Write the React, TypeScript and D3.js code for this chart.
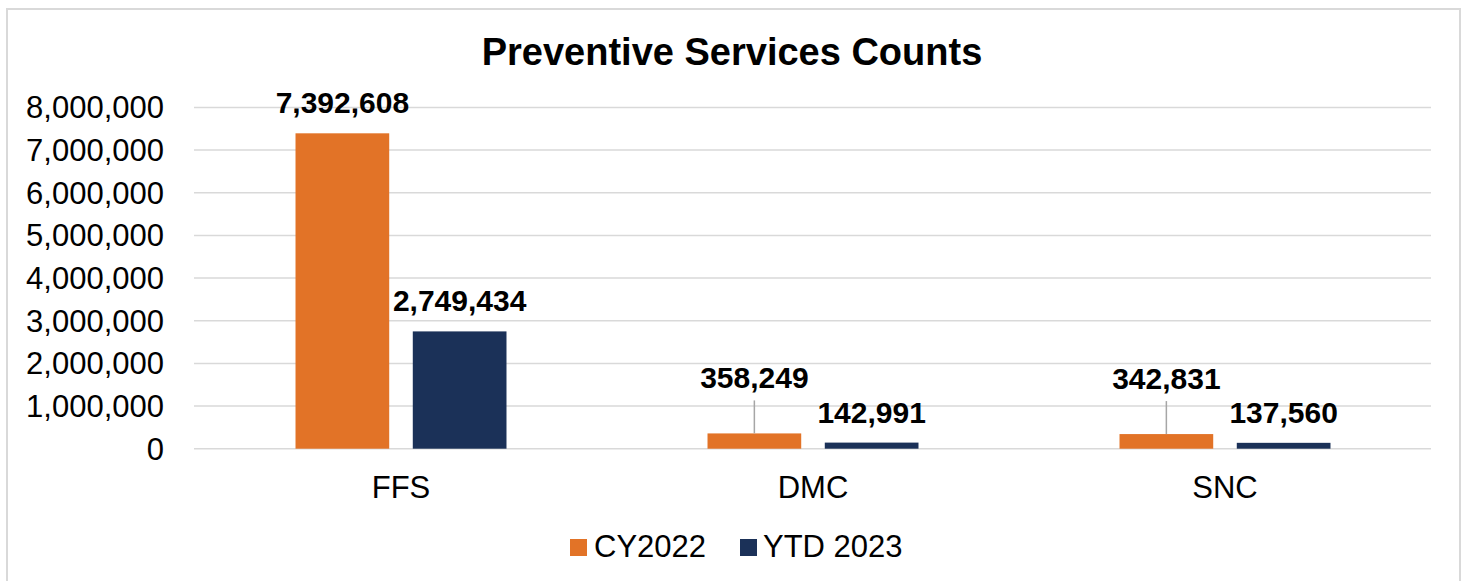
import React from "react";
import * as d3 from "d3";

const categories = ["FFS", "DMC", "SNC"];
const seriesNames = ["CY2022", "YTD 2023"];
const cy2022 = [7392608, 358249, 342831];
const ytd2023 = [2749434, 142991, 137560];
const yTicks = [0, 1000000, 2000000, 3000000, 4000000, 5000000, 6000000, 7000000, 8000000];
const colors = ["#E27327", "#1B3158"];
const title = "Preventive Services Counts";

const W = 1469;
const H = 581;
const FONT = "'Liberation Sans', Arial, sans-serif";

export default function App() {
  const x0 = d3.scaleBand<string>().domain(categories).range([195, 1431]).paddingInner(0).paddingOuter(0);
  const x1 = d3
    .scaleBand<string>()
    .domain(seriesNames)
    .range([0, x0.bandwidth()])
    .paddingInner(0.201)
    .paddingOuter(0.857);
  const y = d3.scaleLinear().domain([0, 8000000]).range([448.7, 107.4]);
  const fmt = d3.format(",");
  const series = [cy2022, ytd2023];

  return (
    <svg
      width={W}
      height={H}
      style={{ position: "absolute", left: 0, top: 0, background: "#fff" }}
      fontFamily={FONT}
    >
      <rect x={0} y={0} width={W} height={H} fill="#fff" />
      <rect x={7} y={9} width={1453} height={640} fill="#fff" stroke="#d9d9d9" strokeWidth={2} />
      <text x={732} y={65} textAnchor="middle" fontSize={38} fontWeight="bold" fill="#000">
        {title}
      </text>
      {yTicks.map((t) => (
        <g key={t}>
          <line x1={194} x2={1431} y1={y(t)} y2={y(t)} stroke="#d9d9d9" strokeWidth={1.5} />
          <text x={164} y={y(t)} dy="0.35em" textAnchor="end" fontSize={31} fill="#000">
            {fmt(t)}
          </text>
        </g>
      ))}
      {categories.map((c, ci) => (
        <g key={c} transform={`translate(${x0(c)},0)`}>
          {series.map((vals, si) => {
            const v = vals[ci];
            const bx = x1(seriesNames[si])!;
            const bw = x1.bandwidth();
            const top = y(v);
            const cx = bx + bw / 2;
            const small = y(0) - top < 30 && si === 0;
            const baseline = small ? top - 45 : top - 20;
            return (
              <g key={si}>
                <rect x={bx} y={top} width={bw} height={y(0) - top} fill={colors[si]} />
                {small && (
                  <line x1={cx} x2={cx} y1={baseline + 12} y2={top} stroke="#a6a6a6" strokeWidth={1.5} />
                )}
                <text x={cx} y={baseline} textAnchor="middle" fontSize={30} fontWeight="bold" fill="#000">
                  {fmt(v)}
                </text>
              </g>
            );
          })}
          <text x={x0.bandwidth() / 2} y={498} textAnchor="middle" fontSize={31} fill="#000">
            {c}
          </text>
        </g>
      ))}
      <g>
        <rect x={570} y={539} width={17} height={17} fill={colors[0]} />
        <text x={594} y={557} fontSize={31} fill="#000">
          {seriesNames[0]}
        </text>
        <rect x={740} y={539} width={17} height={17} fill={colors[1]} />
        <text x={763} y={557} fontSize={31} fill="#000">
          {seriesNames[1]}
        </text>
      </g>
    </svg>
  );
}
